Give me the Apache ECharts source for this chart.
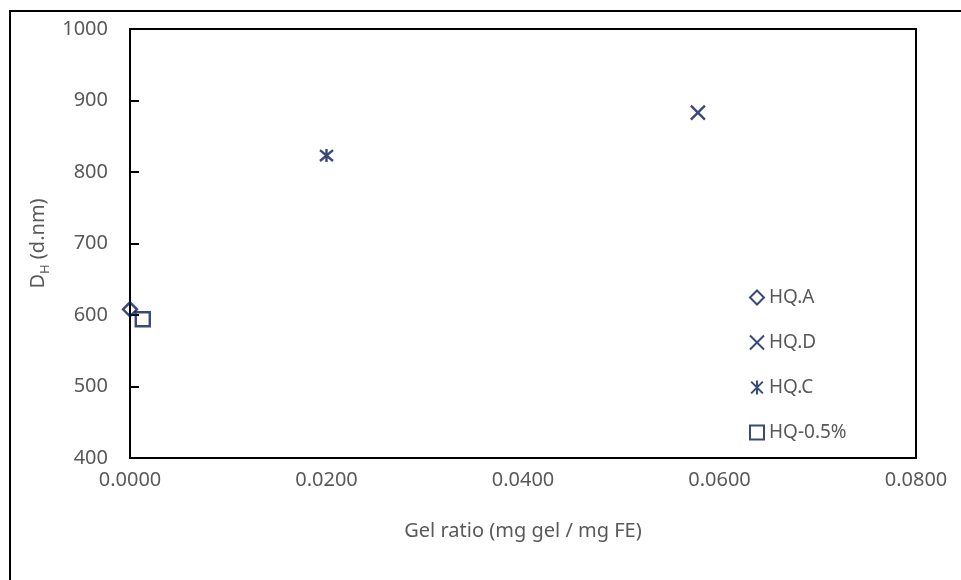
<!DOCTYPE html>
<html>
<head>
<meta charset="utf-8">
<script src="https://cdn.jsdelivr.net/npm/echarts@6/dist/echarts.min.js"></script>
<style>
  html, body { margin: 0; padding: 0; background: #fff; }
  #chart { width: 961px; height: 580px; }
</style>
</head>
<body>
<div id="chart"></div>
<script>
// Hydrodynamic diameter vs. gel ratio for the four formulations
const seriesNames = ['HQ.A', 'HQ.D', 'HQ.C', 'HQ-0.5%'];
const gelRatio = [0.0000, 0.0578, 0.0200, 0.0013];
const diameter = [608, 883, 823, 594];

const xTicks = { min: 0, max: 0.08, interval: 0.02 };
const yTicks = { min: 400, max: 1000, interval: 100 };

const navy = '#071c58';
const textGray = '#595959';
const font = 'Noto Sans';

// Marker shapes: outlined diamond, cross, asterisk, outlined square
const symbols = [
  'diamond',
  'path://M0,0L10,10M10,0L0,10',
  'path://M0,0L10,10M10,0L0,10M5,-1L5,11',
  'rect'
];
const symbolSizes = [14, 14, 13, 14];

const series = seriesNames.map((name, i) => ({
  name: name,
  type: 'scatter',
  data: [[gelRatio[i], diameter[i]]],
  symbol: symbols[i],
  symbolSize: symbolSizes[i],
  itemStyle: {
    color: 'rgba(0,0,0,0)',
    borderColor: navy,
    borderWidth: 2.4
  },
  emphasis: { disabled: true }
}));

const chart = echarts.init(document.getElementById('chart'), null, { renderer: 'canvas' });
chart.setOption({
  animation: false,
  backgroundColor: '#fff',
  textStyle: { fontFamily: font },
  grid: { left: 130, right: 45, top: 29, bottom: 122 },
  legend: {
    orient: 'vertical',
    left: 744,
    top: 283,
    itemWidth: 14,
    itemHeight: 14,
    itemGap: 26,
    textStyle: { color: textGray, fontSize: 19, fontFamily: font },
    data: seriesNames
  },
  xAxis: {
    type: 'value',
    min: xTicks.min,
    max: xTicks.max,
    interval: xTicks.interval,
    name: 'Gel ratio (mg gel / mg FE)',
    nameLocation: 'middle',
    nameGap: 63,
    nameTextStyle: { color: textGray, fontSize: 20, fontFamily: font },
    axisLine: { onZero: false, lineStyle: { color: '#000', width: 2 } },
    axisTick: { show: false },
    splitLine: { show: false },
    axisLabel: {
      color: textGray, fontSize: 20, fontFamily: font, margin: 12,
      formatter: v => v.toFixed(4)
    }
  },
  yAxis: {
    type: 'value',
    min: yTicks.min,
    max: yTicks.max,
    interval: yTicks.interval,
    name: '{a|D}{s|H}{a| (d.nm)}',
    nameLocation: 'middle',
    nameGap: 77,
    nameTextStyle: {
      color: textGray, fontFamily: font,
      rich: {
        a: { fontSize: 20, color: textGray, fontFamily: font, lineHeight: 26 },
        s: { fontSize: 13, color: textGray, fontFamily: font, lineHeight: 26, verticalAlign: 'bottom', padding: [9, 0, 0, 0] }
      }
    },
    axisLine: { show: true, lineStyle: { color: '#000', width: 2 } },
    axisTick: { show: true, inside: true, length: 9, lineStyle: { color: '#000', width: 2 } },
    splitLine: { show: false },
    axisLabel: {
      color: textGray, fontSize: 20, fontFamily: font, margin: 22,
      formatter: v => String(v)
    }
  },
  series: series
});
// Outer frame, and the plot frame closed on the top and right sides
const g = chart.getModel().getComponent('grid').coordinateSystem.getRect();
chart.setOption({
  graphic: [{
    type: 'rect',
    shape: { x: 10, y: 11, width: 1200, height: 1000 },
    style: { fill: 'none', stroke: '#000', lineWidth: 2 },
    silent: true
  }, {
    type: 'rect',
    shape: { x: g.x, y: g.y, width: g.width, height: g.height },
    style: { fill: 'none', stroke: '#000', lineWidth: 2 },
    silent: true
  }]
});
</script>
</body>
</html>
